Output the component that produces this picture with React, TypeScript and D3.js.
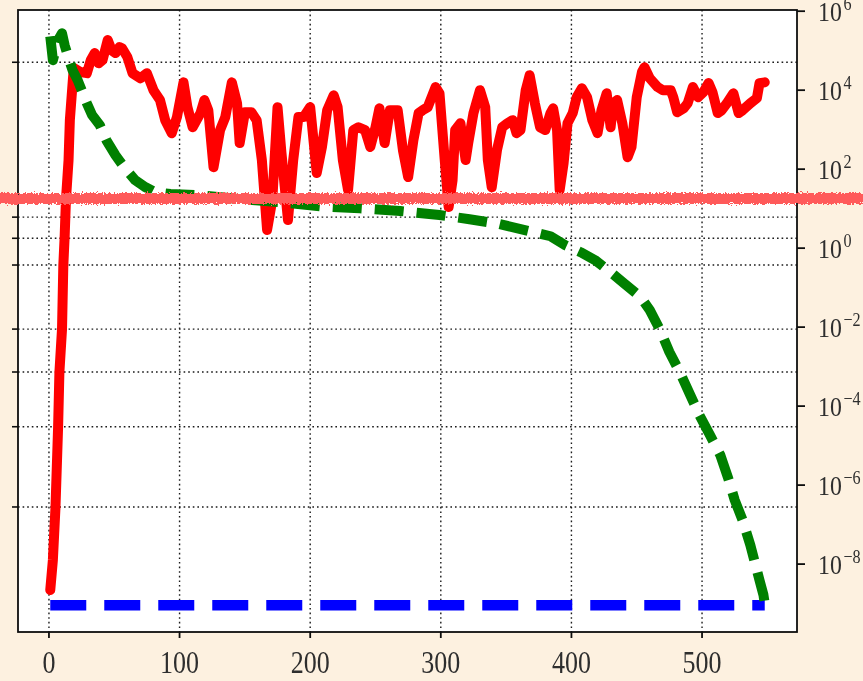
import React from "react";
import * as d3 from "d3";

// iteration index of each sample
const redX = [1,3,5,7,8,10,11,12,13,15,16,18,19,24,29,32,35,38,41,45,48,51,54,56,60,64,70,75,80,85,89,94,98,103,106,110,116,119,122,126,131,135,140,144,146,150,155,159,163,167,171,175,178,183,187,191,195,200,202,205,209,213,218,221,225,229,233,237,242,246,250,253,257,261,267,271,275,279,283,286,290,296,299,303,306,309,311,315,319,321,325,330,334,336,339,343,347,351,355,358,361,365,368,372,376,380,384,386,389,391,394,397,401,404,408,412,416,420,423,427,430,432,435,439,443,446,450,454,456,460,466,470,476,478,481,486,489,493,497,501,505,508,512,515,519,524,528,531,537,542,544,548];
const redY = [2.2e-9,1.26e-8,2.75e-7,2.95e-5,7.2e-4,8.9e-3,0.37,1.9,16.6,170,1740,13500,36300,28800,26900,57500,87100,47900,57500,186000,102000,87100,123000,115000,69200,26900,20000,26900,10000,5620,1740,813,2090,15800,3720,1150,2630,5620,3090,112,977,2090,15800,4680,457,2750,2750,1740,170,2.88,16.6,3720,257,5.13,170,2090,2090,3720,813,79.4,363,3090,7410,3720,170,29.5,977,1150,977,363,1150,3470,457,3090,3090,302,63,537,2630,3090,3720,12000,8320,170,11,52.5,977,1450,170,457,2630,10000,3720,170,34.7,302,1150,1450,1740,813,977,10000,24000,4680,1150,977,2630,3470,977,29.5,141,1450,2630,6610,11200,6610,1740,813,3090,8320,1150,4680,5620,1450,200,363,6610,28800,38000,20000,12000,10000,10000,6610,2750,3470,4680,12000,6610,8910,15100,8910,2630,3090,4680,8320,2630,3090,4680,6310,15100,15800];

const greenX = [1,3,7,10,12,15,18,22,25,29,33,39,44,51,58,66,74,81,93,116,146,177,208,238,269,299,322,345,368,384,395,407,418,430,441,453,460,468,475,483,491,498,506,514,520,525,531,537,541,544,547,548];
const greenY = [2.3e5,5.75e4,1.86e5,2.75e5,1.38e5,6.5e4,3.24e4,1.78e4,1e4,4680,2340,1290,537,224,107,52.5,34.7,26.3,23.4,21.9,17.4,14.5,11.5,10.2,8.7,6.9,5.4,4.07,2.69,2.0,1.2,0.79,0.5,0.245,0.123,0.0575,0.0269,8.3e-3,2.34e-3,7.2e-4,1.9e-4,5.9e-5,1.86e-5,5.75e-6,1.5e-6,4.2e-7,1.3e-7,3.0e-8,9.3e-9,3.9e-9,1.66e-9,1.0e-9];

const blueX = [1, 548];
const blueY = [9e-10, 9e-10];

const xTicks = [0, 100, 200, 300, 400, 500];
const rightTickExponents = [-8, -6, -4, -2, 0, 2, 4, 6];
// positions of the primary-axis gridlines (unlabelled axis, 0–100 span)
const leftTicks = [20.1, 33.0, 41.8, 48.7, 59.0, 63.3, 66.7, 91.6];

const W = 863;
const H = 681;
const plot = { left: 18, right: 797, top: 10, bottom: 632 };
const BG = "#fdf1e0";
const FONT = "'Liberation Serif', 'DejaVu Serif', serif";
const TEXT = "#2e2e2e";

export default function App() {
  const x = d3.scaleLinear().domain([-23.7, 572.7]).range([plot.left, plot.right]);
  const y = d3.scaleLog().domain([Math.pow(10, -9.72), Math.pow(10, 6.03)]).range([plot.bottom, plot.top]);
  const yLeft = d3.scaleLinear().domain([0, 100]).range([plot.bottom, plot.top]);

  const line = (xs: number[], ys: number[]) =>
    d3.line<number>().x((_, i) => x(xs[i])).y((_, i) => y(ys[i]))(xs.map((_, i) => i)) || "";

  const gridStyle = { stroke: "#1a1a1a", strokeWidth: 1.4, strokeDasharray: "1.6,3" };

  return (
    <svg
      width={W}
      height={H}
      viewBox={`0 0 ${W} ${H}`}
      style={{ position: "fixed", left: 0, top: 0, display: "block" }}
    >
      <defs>
        <filter id="roughen" filterUnits="userSpaceOnUse" x={-20} y={170} width={W + 40} height={60}>
          <feTurbulence type="fractalNoise" baseFrequency="0.55" numOctaves={2} seed={4} result="n" />
          <feDisplacementMap in="SourceGraphic" in2="n" scale={6} xChannelSelector="R" yChannelSelector="G" />
        </filter>
        <filter id="soft">
          <feGaussianBlur stdDeviation={0.6} />
        </filter>
        <clipPath id="plotClip">
          <rect x={plot.left} y={plot.top} width={plot.right - plot.left} height={plot.bottom - plot.top} />
        </clipPath>
      </defs>

      <rect x={0} y={0} width={W} height={H} fill={BG} />
      <rect x={plot.left} y={plot.top} width={plot.right - plot.left} height={plot.bottom - plot.top} fill="#fff" />

      {/* grid */}
      <g filter="url(#soft)">
        {xTicks.map((t) => (
          <line key={`gx${t}`} x1={x(t)} x2={x(t)} y1={plot.top} y2={plot.bottom} {...gridStyle} />
        ))}
        {leftTicks.map((t) => (
          <line key={`gy${t}`} x1={plot.left} x2={plot.right} y1={yLeft(t)} y2={yLeft(t)} {...gridStyle} />
        ))}
      </g>

      {/* series */}
      <g clipPath="url(#plotClip)" filter="url(#soft)">
        <path d={line(redX, redY)} fill="none" stroke="#ff0000" strokeWidth={10} strokeLinejoin="round" strokeLinecap="round" />
        <path d={line(blueX, blueY)} fill="none" stroke="#0000ff" strokeWidth={10.5} strokeDasharray="36,18" />
        <path d={line(greenX, greenY)} fill="none" stroke="#008000" strokeWidth={10} strokeDasharray="29,13" strokeLinejoin="round" />
      </g>

      {/* frame */}
      <g filter="url(#soft)">
        <rect x={plot.left} y={plot.top} width={plot.right - plot.left} height={plot.bottom - plot.top} fill="none" stroke="#111" strokeWidth={1.8} />
        {xTicks.map((t) => (
          <line key={`tx${t}`} x1={x(t)} x2={x(t)} y1={plot.bottom} y2={plot.bottom + 6} stroke="#111" strokeWidth={1.8} />
        ))}
        {leftTicks.map((t) => (
          <line key={`tl${t}`} x1={plot.left - 6} x2={plot.left} y1={yLeft(t)} y2={yLeft(t)} stroke="#111" strokeWidth={1.6} />
        ))}
        {rightTickExponents.map((e) => (
          <line key={`tr${e}`} x1={plot.right} x2={plot.right + 8} y1={y(Math.pow(10, e))} y2={y(Math.pow(10, e))} stroke="#111" strokeWidth={1.8} />
        ))}
      </g>

      {/* tick labels */}
      <g fill={TEXT} fontFamily={FONT} filter="url(#soft)">
        {xTicks.map((t) => {
          const s = String(t);
          return (
            <text key={`lx${t}`} x={x(t)} y={673} fontSize={32} textAnchor="middle" textLength={s.length * 13} lengthAdjust="spacingAndGlyphs">
              {s}
            </text>
          );
        })}
        {rightTickExponents.map((e) => {
          const ty = y(Math.pow(10, e));
          const exp = e < 0 ? `\u2212${-e}` : `${e}`;
          return (
            <text key={`lr${e}`} transform={`translate(818,${ty + 10}) scale(0.85,1)`} fontSize={28}>
              10
              <tspan fontSize={19} dx={2} dy={-11}>{exp}</tspan>
            </text>
          );
        })}
      </g>

      {/* overlay stroke */}
      <rect x={-10} y={193} width={W + 20} height={11} fill="#ff5a5a" filter="url(#roughen)" />
    </svg>
  );
}
